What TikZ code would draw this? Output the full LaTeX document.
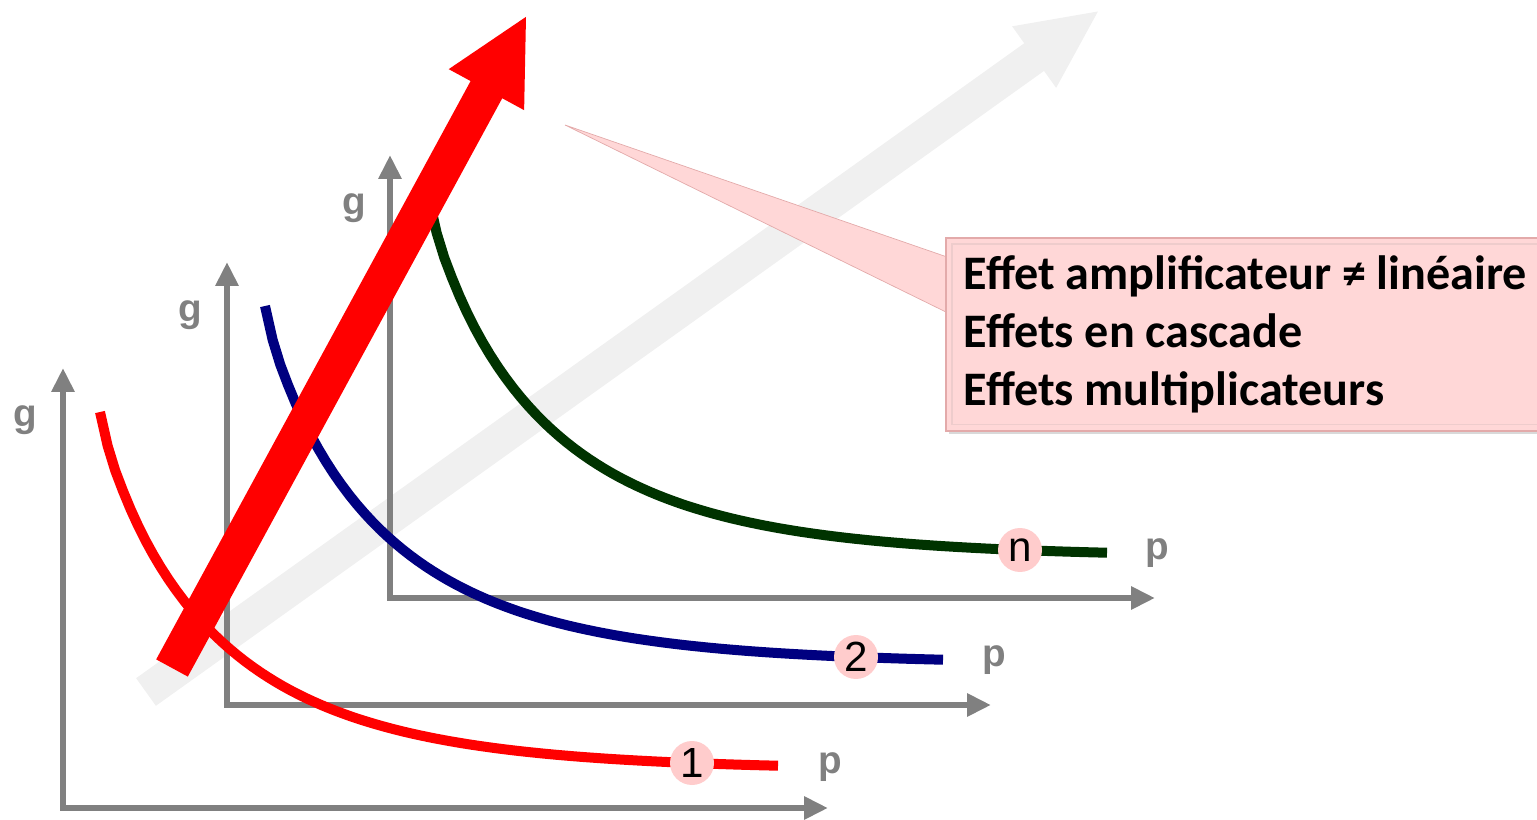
\documentclass[tikz,border=0pt]{standalone}
\usepackage{fontspec}
\setmainfont{Liberation Sans}
\newfontfamily\calibri{Carlito}
\usetikzlibrary{arrows.meta,shadows,calc}
\definecolor{axisgray}{HTML}{808080}
\definecolor{trendgray}{HTML}{F0F0F0}
\definecolor{curvered}{HTML}{FF0000}
\definecolor{curveblue}{HTML}{000080}
\definecolor{curvegreen}{HTML}{003300}
\definecolor{tagpink}{HTML}{FFCCCC}
\definecolor{notepink}{HTML}{FFD7D7}
\definecolor{noteedge}{HTML}{E3AAAA}

\begin{document}
\begin{tikzpicture}[x=0.02cm, y=-0.02cm,
  axis/.style={draw=axisgray, line width=0.12cm, line join=miter,
               {Triangle[length=0.48cm,width=0.44cm]}-{Triangle[length=0.48cm,width=0.44cm]}},
  axlbl/.style={font=\fontsize{22}{26}\selectfont\bfseries, text=axisgray, inner sep=0pt},
  curve/.style={line width=0.2cm},
  tag/.style={circle, fill=tagpink, minimum size=0.88cm, inner sep=0pt,
              font=\fontsize{24}{28}\selectfont},
  trend/.style={draw=trendgray, line width=0.68cm, -{Triangle[length=1.62cm,width=1.38cm]}},
  bigarrow/.style={draw=curvered, line width=0.72cm, -{Triangle[length=1.7cm,width=1.58cm]}},
  notebox/.style={rectangle, fill=notepink, draw=noteedge, line width=1pt,
                  font=\calibri\bfseries\fontsize{27.4}{33}\selectfont, align=left,
                  inner xsep=0.36cm, minimum width=11.8cm, minimum height=3.86cm,
                  drop shadow={opacity=0.3, shadow xshift=2pt, shadow yshift=-2pt}}
]
\useasboundingbox (0,0) rectangle (1537,820);

%--- Background trend arrow ---
\coordinate (trendtail) at (146,692);
\coordinate (trendtip) at (1100,10);
\draw[trend] (trendtail) -- (trendtip);

%--- Axes ---
\coordinate (o1) at (63,808);  \coordinate (t1) at (63,368);  \coordinate (r1) at (828,808);
\coordinate (o2) at (227,705); \coordinate (t2) at (227,262); \coordinate (r2) at (991,705);
\coordinate (o3) at (390,598); \coordinate (t3) at (390,155); \coordinate (r3) at (1155,598);
\draw[axis] (t1) -- (o1) -- (r1);
\draw[axis] (t2) -- (o2) -- (r2);
\draw[axis] (t3) -- (o3) -- (r3);

\node[axlbl] (g1) at (25,420) {g};
\node[axlbl] (p1) at (830,767) {p};
\node[axlbl] (g2) at (190,315) {g};
\node[axlbl] (p2) at (994,660) {p};
\node[axlbl] (g3) at (354,208) {g};
\node[axlbl] (p3) at (1157,553) {p};

%--- Curves (same shape, shifted) ---
\begin{scope}[shift={(100,412)}]
\draw[curve, curvered] plot[domain=0.01:678, samples=90] (\x, {358*(1-exp(-pow(\x/118,0.85)))});
\end{scope}
\begin{scope}[shift={(265,306)}]
\draw[curve, curveblue] plot[domain=0.01:678, samples=90] (\x, {358*(1-exp(-pow(\x/118,0.85)))});
\end{scope}
\begin{scope}[shift={(429,199)}]
\draw[curve, curvegreen] plot[domain=0.01:678, samples=90] (\x, {358*(1-exp(-pow(\x/118,0.85)))});
\end{scope}

\node[tag] (tag1) at (692,763) {1};
\node[tag] (tag2) at (856,657) {2};
\node[tag] (tagn) at (1020,550) {n};

%--- Main red arrow ---
\coordinate (redtail) at (172,668);
\coordinate (redtip) at (527,15);
\draw[bigarrow] (redtail) -- (redtip);

%--- Callout ---
\coordinate (pointer) at (565,125);
\coordinate (wedgetop) at (950,258);
\coordinate (wedgebot) at (950,314);
\fill[notepink, draw=noteedge, line width=0.4pt] (pointer) -- (wedgetop) -- (wedgebot) -- cycle;
\node[notebox, anchor=north west] (note) at (945,237) {%
  Effet amplificateur ≠ linéaire\\
  Effets en cascade\\
  Effets multiplicateurs};
\draw[noteedge!60, line width=0.6pt] ($(note.north west)+(7,7)$) rectangle ($(note.south east)+(-7,-7)$);

\end{tikzpicture}
\end{document}
